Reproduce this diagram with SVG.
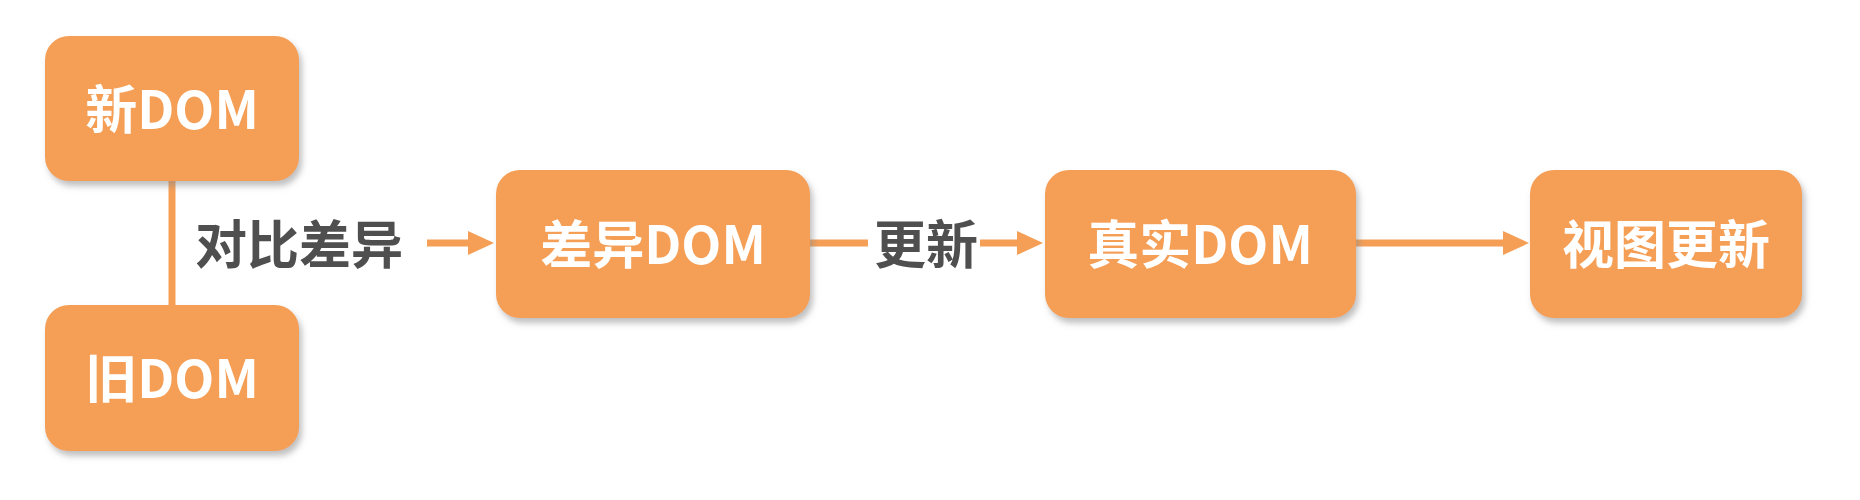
<svg xmlns="http://www.w3.org/2000/svg" width="1860" height="500" viewBox="0 0 1860 500">
<style>
.box{fill:#F59E55;filter:url(#sh)}
.nt{font-family:"Noto Sans CJK SC","Noto Sans",sans-serif;font-weight:bold;font-size:52px;fill:#FFFFFF;text-anchor:middle;dominant-baseline:central}
.lt{font-family:"Noto Sans CJK SC","Noto Sans",sans-serif;font-weight:bold;font-size:52px;fill:#4F4F4F;text-anchor:middle;dominant-baseline:central}
.ln{stroke:#F59E55;stroke-width:7;fill:none}
</style>
<defs>
<filter id="sh" x="-10%" y="-10%" width="125%" height="130%">
<feDropShadow dx="3" dy="5" stdDeviation="3" flood-color="#8A8A8A" flood-opacity="0.55"/>
</filter>
<marker id="ah" markerWidth="26" markerHeight="24" refX="2" refY="12" orient="auto" markerUnits="userSpaceOnUse">
<path d="M0,0 L26,12 L0,24 Z" fill="#F59E55"/>
</marker>
</defs>
<rect width="1860" height="500" fill="#FFFFFF"/>
<g id="connectors">
<line class="ln" x1="172" y1="181" x2="172" y2="305"/>
<line class="ln" x1="427" y1="243" x2="470" y2="243" marker-end="url(#ah)"/>
<line class="ln" x1="810" y1="243" x2="868" y2="243"/>
<line class="ln" x1="980" y1="243" x2="1019" y2="243" marker-end="url(#ah)"/>
<line class="ln" x1="1356" y1="243" x2="1505" y2="243" marker-end="url(#ah)"/>
<text class="lt" x="299" y="241">对比差异</text>
<text class="lt" x="926" y="241">更新</text>
</g>
<g id="node-new">
<rect class="box" x="45" y="36" width="254" height="145" rx="24"/>
<text class="nt" x="172" y="106">新DOM</text>
</g>
<g id="node-old">
<rect class="box" x="45" y="305" width="254" height="146" rx="24"/>
<text class="nt" x="172" y="375">旧DOM</text>
</g>
<g id="node-diff">
<rect class="box" x="496" y="170" width="314" height="148" rx="24"/>
<text class="nt" x="653" y="241">差异DOM</text>
</g>
<g id="node-real">
<rect class="box" x="1045" y="170" width="311" height="148" rx="24"/>
<text class="nt" x="1200" y="241">真实DOM</text>
</g>
<g id="node-view">
<rect class="box" x="1530" y="170" width="272" height="148" rx="24"/>
<text class="nt" x="1666" y="241">视图更新</text>
</g>
</svg>
